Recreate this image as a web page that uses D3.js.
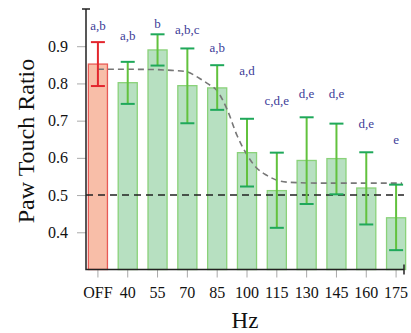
<!DOCTYPE html>
<html>
<head>
<meta charset="utf-8">
<script src="https://cdn.jsdelivr.net/npm/d3@7"></script>
<style>
  body { margin: 0; background: #fff; }
  svg text { font-family: "Liberation Serif", "Times New Roman", serif !important; }
</style>
</head>
<body>
<div id="chart"></div>
<script>
// data
let categories = ["OFF", "40", "55", "70", "85", "100", "115", "130", "145", "160", "175"];
let ratio      = [0.852, 0.802, 0.890, 0.794, 0.788, 0.614, 0.512, 0.593, 0.598, 0.519, 0.439];
let errHigh    = [0.911, 0.858, 0.932, 0.894, 0.849, 0.705, 0.614, 0.709, 0.692, 0.615, 0.528];
let errLow     = [0.793, 0.745, 0.848, 0.693, 0.729, 0.523, 0.412, 0.476, 0.502, 0.421, 0.352];
let groups     = ["a,b", "a,b", "b", "a,b,c", "a,b", "a,d", "c,d,e", "d,e", "d,e", "d,e", "e"];
let groupLevel = [0.957, 0.930, 0.960, 0.944, 0.898, 0.834, 0.753, 0.772, 0.772, 0.692, 0.649];
let yTicks     = [0.4, 0.5, 0.6, 0.7, 0.8, 0.9];
let chanceLevel = 0.5;

// fitted curve
let fitHz  = [25, 40, 55, 62, 69, 76, 80, 85, 90, 95, 100, 105, 110, 115, 122, 140, 178];
let fitVal = [0.838, 0.838, 0.837, 0.835, 0.832, 0.814, 0.800, 0.780, 0.730, 0.660, 0.608, 0.572, 0.553, 0.540, 0.534, 0.532, 0.532];

let svgWidth = 411;
let svgHeight = 333;

let svg = d3.select("#chart")
    .append("svg")
    .attr("width", svgWidth)
    .attr("height", svgHeight)
    .attr("font-family", "Liberation Serif");

let x = d3.scaleBand()
    .domain(categories)
    .range([83, 411])
    .paddingInner(0.36)
    .paddingOuter(0.18);

let y = d3.scaleLinear()
    .domain([0.3, 1.0])
    .range([269.5, 9]);

let bw = x.bandwidth();
let cx = d => x(d) + bw / 2;

let xHz = d3.scaleLinear()
    .domain([25, 175])
    .range([cx("OFF"), cx("175")]);

let rows = categories.map((c, i) => ({
    cat: c, v: ratio[i], hi: errHigh[i], lo: errLow[i], g: groups[i], gl: groupLevel[i], off: c === "OFF"
}));

// bars
svg.selectAll(".bar")
    .data(rows)
    .enter()
    .append("rect")
    .attr("class", "bar")
    .attr("x", d => x(d.cat))
    .attr("width", bw)
    .attr("y", d => y(d.v))
    .attr("height", d => y(0.3) - y(d.v))
    .attr("fill", d => d.off ? "#f8bea8" : "#b7e0c1")
    .attr("stroke", d => d.off ? "#e85a55" : "#8ad27a")
    .attr("stroke-width", 1.3);

// chance line
svg.append("line")
    .attr("x1", 86).attr("x2", 404)
    .attr("y1", y(chanceLevel)).attr("y2", y(chanceLevel))
    .attr("stroke", "#222")
    .attr("stroke-width", 1.6)
    .attr("stroke-dasharray", "7,5");

// fitted sigmoid
let line = d3.line()
    .x(d => xHz(d[0]))
    .y(d => y(d[1]))
    .curve(d3.curveMonotoneX);

svg.append("path")
    .datum(fitHz.map((h, i) => [h, fitVal[i]]))
    .attr("d", line)
    .attr("fill", "none")
    .attr("stroke", "#777")
    .attr("stroke-width", 1.6)
    .attr("stroke-dasharray", "6,4");

// error bars
let err = svg.selectAll(".err")
    .data(rows)
    .enter()
    .append("g")
    .attr("class", "err");

err.append("line")
    .attr("x1", d => cx(d.cat)).attr("x2", d => cx(d.cat))
    .attr("y1", d => y(d.hi)).attr("y2", d => y(d.lo))
    .attr("stroke", d => d.off ? "#e3262d" : "#62c23e")
    .attr("stroke-width", 2);

["hi", "lo"].forEach(k => {
    err.append("line")
        .attr("x1", d => cx(d.cat) - 7).attr("x2", d => cx(d.cat) + 7)
        .attr("y1", d => y(d[k])).attr("y2", d => y(d[k]))
        .attr("stroke", d => d.off ? "#e3262d" : "#1fa85a")
        .attr("stroke-width", 2);
});

// group letters
svg.selectAll(".grp")
    .data(rows)
    .enter()
    .append("text")
    .attr("class", "grp")
    .attr("x", d => cx(d.cat))
    .attr("y", d => y(d.gl))
    .attr("dy", "0.35em")
    .attr("text-anchor", "middle")
    .attr("font-size", 13)
    .attr("fill", "#3c3c98")
    .text(d => d.g);

// axes
let bottomAxis = d3.axisBottom(x).tickSize(8).tickPadding(9).tickSizeOuter(0);
let leftAxis = d3.axisLeft(y).tickValues(yTicks).tickFormat(d3.format(".1f")).tickSize(9).tickPadding(9).tickSizeOuter(0);

let gx = svg.append("g")
    .attr("transform", `translate(0, ${y(0.3)})`)
    .call(bottomAxis)
    .attr("font-family", "Liberation Serif");
gx.select(".domain").remove();
gx.selectAll(".tick line").attr("stroke", "#aaa");
gx.selectAll(".tick text").attr("font-size", 16).attr("fill", "#111");

let gy = svg.append("g")
    .attr("transform", "translate(86, 0)")
    .call(leftAxis)
    .attr("font-family", "Liberation Serif");
gy.select(".domain").remove();
gy.selectAll(".tick line").attr("stroke", "#aaa");
gy.selectAll(".tick text").attr("font-size", 16).attr("fill", "#111");

// axis lines with end caps
svg.append("path")
    .attr("d", `M86,${y(1.0)}V${y(0.3)}H404`)
    .attr("fill", "none")
    .attr("stroke", "#222")
    .attr("stroke-width", 1.5);
svg.append("line")
    .attr("x1", 82).attr("x2", 90).attr("y1", y(1.0)).attr("y2", y(1.0))
    .attr("stroke", "#222").attr("stroke-width", 1.5);
svg.append("line")
    .attr("x1", 404).attr("x2", 404).attr("y1", y(0.3) - 5).attr("y2", y(0.3) + 5)
    .attr("stroke", "#222").attr("stroke-width", 1.5);

// axis titles
svg.append("text")
    .attr("transform", "translate(34, 141) rotate(-90)")
    .attr("text-anchor", "middle")
    .attr("font-size", 24)
    .attr("fill", "#111")
    .text("Paw Touch Ratio");

svg.append("text")
    .attr("x", 245)
    .attr("y", 328)
    .attr("text-anchor", "middle")
    .attr("font-size", 23)
    .attr("fill", "#111")
    .text("Hz");
</script>
</body>
</html>
